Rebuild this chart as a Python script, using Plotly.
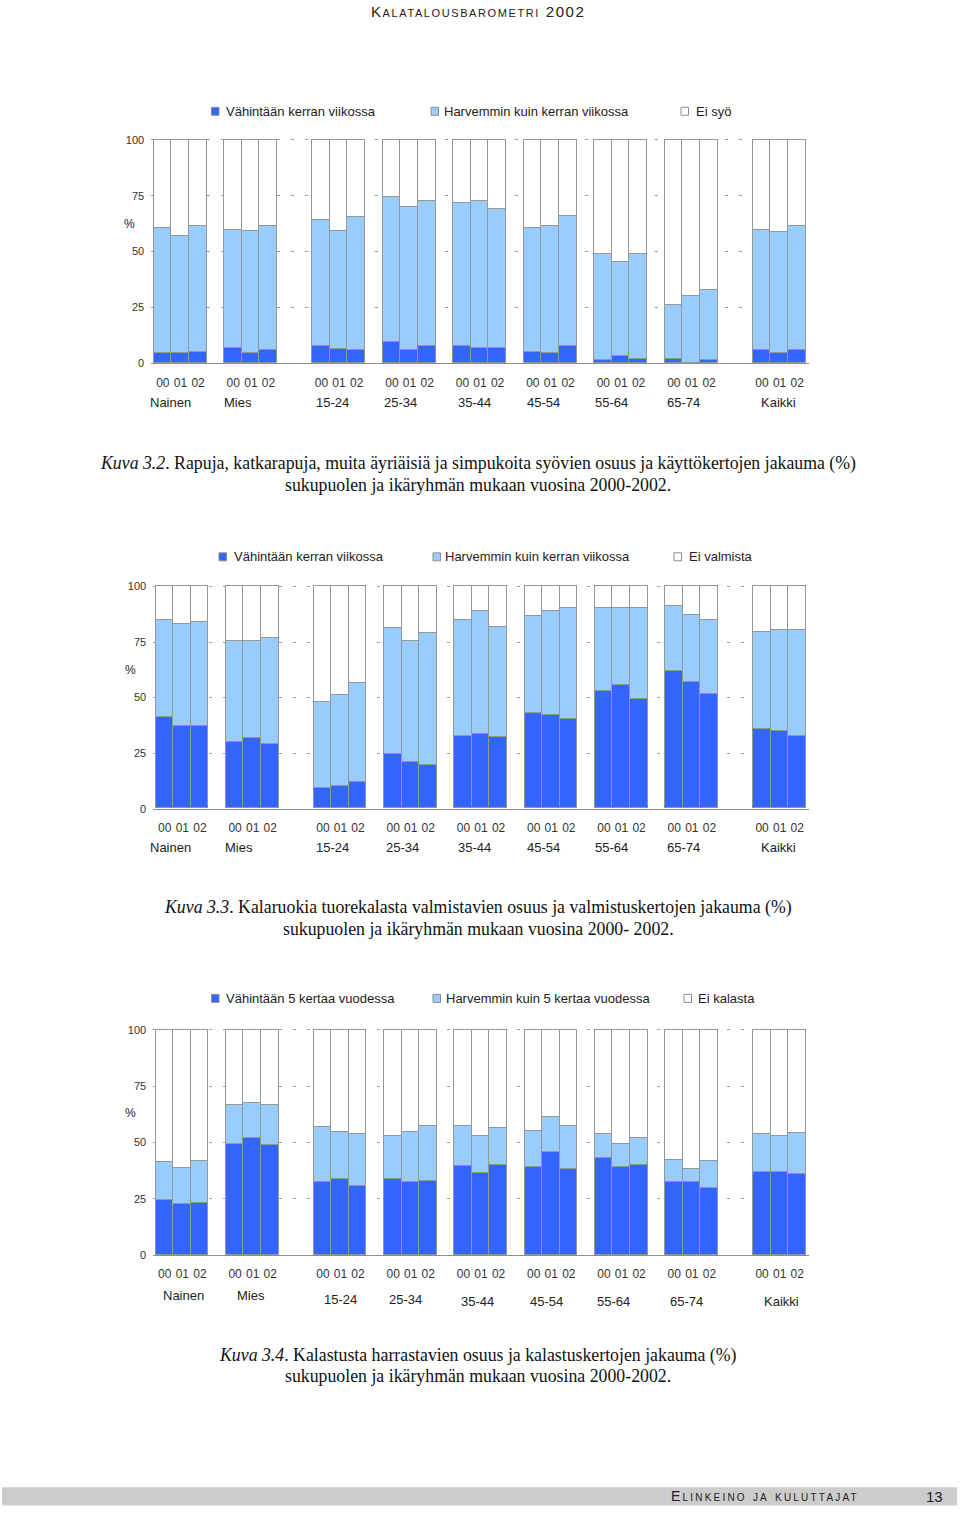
import plotly.graph_objects as go

W, H = 960, 1514

# ---------------- DATA ----------------
groups = ["Nainen", "Mies", "15-24", "25-34", "35-44", "45-54", "55-64", "65-74", "Kaikki"]
years = ["00", "01", "02"]

# Kuva 3.2 (% ; three bars per group = 2000, 2001, 2002)
k32_weekly = [4.7, 4.7, 5.3, 7.0, 4.7, 6.1, 7.6, 6.5, 6.1, 9.6, 5.9, 7.6, 7.6, 7.0, 7.0,
              5.3, 4.7, 7.6, 1.6, 3.3, 2.1, 2.1, 0.4, 1.6, 5.9, 4.7, 5.9]
k32_less = [55.8, 52.6, 56.3, 52.9, 54.8, 55.5, 56.8, 53.0, 59.3, 64.9, 64.3, 65.4, 64.4, 65.8, 62.3,
            55.2, 56.9, 58.4, 47.5, 42.0, 47.0, 23.9, 29.7, 31.2, 54.0, 54.2, 55.7]
k32_series = ["Vähintään kerran viikossa", "Harvemmin kuin kerran viikossa", "Ei syö"]

# Kuva 3.3
k33_weekly = [40.9, 37.0, 37.0, 30.0, 31.8, 29.0, 9.0, 9.9, 11.6, 24.6, 20.7, 19.3, 32.7, 33.3, 32.2,
              42.7, 42.1, 40.3, 52.8, 55.7, 49.3, 61.8, 56.7, 51.5, 35.5, 34.9, 32.7]
k33_less = [43.7, 45.8, 46.9, 45.2, 43.4, 47.9, 38.9, 41.0, 44.7, 56.7, 54.5, 59.8, 52.2, 55.7, 49.6,
            44.0, 46.9, 49.7, 37.2, 34.6, 40.7, 29.2, 30.5, 33.1, 44.1, 45.2, 47.4]
k33_series = ["Vähintään kerran viikossa", "Harvemmin kuin kerran viikossa", "Ei valmista"]

# Kuva 3.4
k34_often = [24.7, 22.6, 23.2, 49.4, 52.2, 49.1, 32.4, 34.0, 30.7, 34.0, 32.4, 33.2, 39.9, 36.8, 40.3,
             39.4, 45.7, 38.2, 43.2, 39.4, 40.3, 32.4, 32.4, 30.1, 37.1, 37.1, 36.2]
k34_less = [16.8, 16.1, 18.7, 17.2, 15.7, 17.5, 24.5, 20.7, 23.1, 19.2, 22.3, 24.3, 17.6, 16.3, 16.2,
            16.0, 15.6, 19.3, 10.6, 10.0, 11.8, 10.0, 5.8, 11.7, 16.7, 16.0, 18.2]
k34_series = ["Vähintään 5 kertaa vuodessa", "Harvemmin kuin 5 kertaa vuodessa", "Ei kalasta"]

y_ticks = [0, 25, 50, 75, 100]

captions = [
    ("<i>Kuva 3.2</i>. Rapuja, katkarapuja, muita äyriäisiä ja simpukoita syövien osuus ja käyttökertojen jakauma (%)",
     "sukupuolen ja ikäryhmän mukaan vuosina 2000-2002."),
    ("<i>Kuva 3.3</i>. Kalaruokia tuorekalasta valmistavien osuus ja valmistuskertojen jakauma (%)",
     "sukupuolen ja ikäryhmän mukaan vuosina 2000- 2002."),
    ("<i>Kuva 3.4</i>. Kalastusta harrastavien osuus ja kalastuskertojen jakauma (%)",
     "sukupuolen ja ikäryhmän mukaan vuosina 2000-2002."),
]
header_text = "Kalatalousbarometri 2002"
footer_text = "Elinkeino ja kuluttajat"
page_no = "13"

# ---------------- LAYOUT CONFIG ----------------
group_first_slot = [0, 4, 9, 13, 17, 21, 25, 29, 34]
N_SLOTS = 37
DARK, LIGHT, WHITE, EDGE = "#3366FF", "#99CCFF", "#FFFFFF", "#969696"
SANS = "Liberation Sans, Arial, sans-serif"
SERIF = "Liberation Serif, Times New Roman, serif"
TXT = "#222222"

charts = [
    dict(a=k32_weekly, b=k32_less, names=k32_series,
         xpx=(154, 806), ypx=(361.5, 136.8),
         lab_x=[170, 238, 332, 400, 474, 543, 611, 683, 778], lab_y=[401.5] * 9,
         leg_sq=[211.5, 431, 681], leg_tx=[224, 442, 694], leg_y=108,
         pct=(129, 221), cap_y=(463, 484)),
    dict(a=k33_weekly, b=k33_less, names=k33_series,
         xpx=(156, 806), ypx=(810, 586.5),
         lab_x=[170, 239, 332, 402, 474, 543, 611, 683, 778], lab_y=[849.5] * 9,
         leg_sq=[219, 433, 674], leg_tx=[232, 443, 687], leg_y=556.5,
         pct=(130, 670), cap_y=(910, 931)),
    dict(a=k34_often, b=k34_less, names=k34_series,
         xpx=(156, 806), ypx=(1259.3, 1032.7),
         lab_x=[183, 251, 340, 405, 477, 546, 613, 686, 781],
         lab_y=[1300, 1300, 1304, 1304, 1306, 1306, 1306, 1306, 1306],
         leg_sq=[211.5, 433, 684], leg_tx=[224, 444, 696], leg_y=1001,
         pct=(130, 1116), cap_y=(1360, 1381)),
]


def px(x):
    return x / W


def py(y):
    return 1 - y / H


fig = go.Figure()
annotations = []
shapes = []

slots = [g + j for g in group_first_slot for j in range(3)]
ticktext = years * len(groups)

for i, c in enumerate(charts):
    n = "" if i == 0 else str(i + 1)
    a, b = c["a"], c["b"]
    rest = [round(100 - u - v, 1) for u, v in zip(a, b)]
    for vals, col, nm in zip([a, b, rest], [DARK, LIGHT, WHITE], c["names"]):
        fig.add_trace(go.Bar(
            x=slots, y=vals, name=nm, width=1,
            marker=dict(color=col, line=dict(color=EDGE, width=1)),
            xaxis="x" + n, yaxis="y" + n, showlegend=False,
            hovertemplate=nm + ": %{y}%<extra></extra>"))

    x0, x1 = c["xpx"]
    slot = (x1 - x0) / N_SLOTS
    pad = 0.15
    dom_x = [px(x0 - pad * slot), px(x1 + pad * slot)]
    y0, y100 = c["ypx"]
    ytop = y0 - 1.01 * (y0 - y100)
    dom_y = [py(y0), py(ytop)]

    fig.layout["xaxis" + n] = dict(
        domain=dom_x, anchor="y" + n, range=[-0.5 - pad, N_SLOTS - 0.5 + pad],
        tickmode="array", tickvals=slots, ticktext=ticktext,
        ticks="outside", ticklen=8, tickcolor="rgba(0,0,0,0)",
        tickfont=dict(family=SANS, size=12, color="#333333"),
        showline=True, linecolor="#8c8c8c", linewidth=1,
        showgrid=False, zeroline=False, fixedrange=True)
    fig.layout["yaxis" + n] = dict(
        domain=dom_y, anchor="x" + n, range=[0, 101],
        tickmode="array", tickvals=y_ticks,
        ticks="outside", ticklen=4, tickcolor="rgba(0,0,0,0)",
        tickfont=dict(family=SANS, size=11, color="#333333"),
        showgrid=True, gridcolor="#9a9a9a", gridwidth=1, griddash="3px,11px",
        showline=False, zeroline=False, fixedrange=True)

    for g, gx, gy in zip(groups, c["lab_x"], c["lab_y"]):
        annotations.append(dict(text=g, x=px(gx), y=py(gy), xref="paper", yref="paper",
                                xanchor="center", yanchor="middle", showarrow=False,
                                font=dict(family=SANS, size=13, color=TXT)))
    annotations.append(dict(text="%", x=px(c["pct"][0]), y=py(c["pct"][1]), xref="paper", yref="paper",
                            xanchor="center", yanchor="middle", showarrow=False,
                            font=dict(family=SANS, size=12, color=TXT)))
    for sq, tx, nm, col in zip(c["leg_sq"], c["leg_tx"], c["names"], [DARK, LIGHT, WHITE]):
        ly = c["leg_y"]
        shapes.append(dict(type="rect", xref="paper", yref="paper",
                           x0=px(sq), x1=px(sq + 7.5), y0=py(ly + 4), y1=py(ly - 4),
                           fillcolor=col, line=dict(color="#8c8c8c", width=1)))
        annotations.append(dict(text=nm, x=px(tx), y=py(ly), xref="paper", yref="paper",
                                xanchor="left", yanchor="middle", showarrow=False,
                                font=dict(family=SANS, size=13, color=TXT)))
    for line, cy in zip(captions[i], c["cap_y"]):
        annotations.append(dict(text=line, x=px(478), y=py(cy), xref="paper", yref="paper",
                                xanchor="center", yanchor="middle", showarrow=False,
                                font=dict(family=SERIF, size=17.8, color="#111111")))

annotations.append(dict(text="<span style='letter-spacing:1.6px'>" + header_text + "</span>",
                        x=px(478), y=py(8), xref="paper", yref="paper",
                        xanchor="center", yanchor="middle", showarrow=False,
                        font=dict(family=SANS, size=15, color=TXT, variant="small-caps")))
shapes.append(dict(type="rect", xref="paper", yref="paper", x0=px(2), x1=px(957),
                   y0=py(1511.5), y1=py(1493), fillcolor="#cccccc", line=dict(width=0), layer="below"))
annotations.append(dict(text="<span style='letter-spacing:2.2px'>" + footer_text + "</span>",
                        x=px(861), y=py(1502), xref="paper", yref="paper",
                        xanchor="right", yanchor="middle", showarrow=False,
                        font=dict(family=SANS, size=14, color=TXT, variant="small-caps")))
annotations.append(dict(text=page_no, x=px(945), y=py(1502), xref="paper", yref="paper",
                        xanchor="right", yanchor="middle", showarrow=False,
                        font=dict(family=SANS, size=15, color=TXT)))

fig.update_layout(
    width=W, height=H, margin=dict(l=0, r=0, t=0, b=0),
    paper_bgcolor="white", plot_bgcolor="white",
    barmode="stack", bargap=0,
    annotations=annotations, shapes=shapes, showlegend=False)

fig.write_html("out.html", config={"displayModeBar": False},
               post_script="document.body.style.margin='0';document.body.style.overflow='hidden';")
